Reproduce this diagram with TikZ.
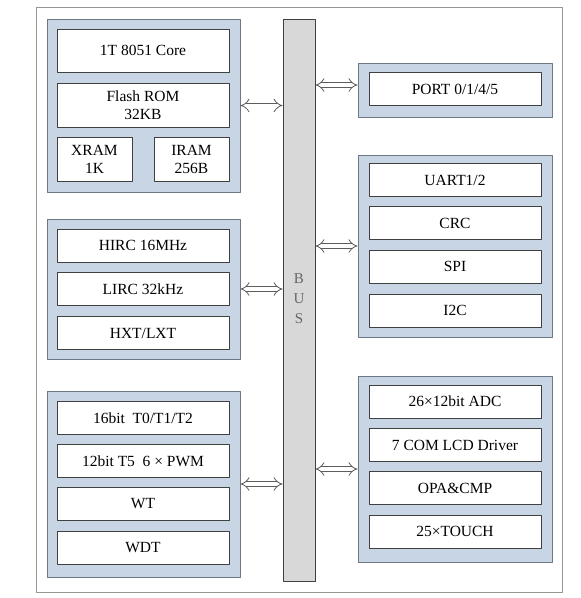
\documentclass[tikz,border=0pt]{standalone}
\usepackage{fontspec}
\setmainfont{Liberation Serif}
\usetikzlibrary{arrows.meta}
\definecolor{grpfill}{RGB}{200,213,228}
\definecolor{grpline}{RGB}{110,120,132}
\definecolor{busfill}{RGB}{216,216,216}
\definecolor{boxline}{RGB}{64,64,64}
\definecolor{frameline}{RGB}{150,150,150}
\begin{document}
\begin{tikzpicture}[x=1pt, y=-1pt, line join=round, font=\fontsize{15.5}{18}\selectfont,
	grp/.style={draw=grpline, fill=grpfill, line width=0.9pt, minimum width=193pt, inner sep=0pt},
	unit/.style={draw=boxline, fill=white, line width=0.8pt, minimum width=172pt, minimum height=33pt, inner sep=0pt, align=center},
	ram/.style={unit, minimum width=75pt, minimum height=44pt},
	link/.style={draw=boxline!85, line width=0.8pt, double=white, double distance=4pt, {Implies}-{Implies}}]
	%Khung ngoài.
	\useasboundingbox (0,0) rectangle (581,598);
	\draw[frameline, line width=0.9pt] (36,7) rectangle (562,592);
	%Đường BUS.
	\node[draw=boxline, fill=busfill, line width=0.8pt, minimum width=32pt, minimum height=562pt, inner sep=0pt] (bus) at (299,300) {};
	\node[text=black!60, align=center, font=\fontsize{15}{20}\selectfont] (bustext) at (299,299) {B\\U\\S};
	%Khối CPU và bộ nhớ.
	\node[grp, minimum height=173pt] (cpu) at (143.5,105.5) {};
	\node[unit, minimum height=43pt] (core) at (143,50.5) {1T 8051 Core};
	\node[unit, minimum height=44pt] (flash) at (143,105) {Flash ROM\\32KB};
	\node[ram] (xram) at (94.5,159) {XRAM\\1K};
	\node[ram] (iram) at (191.5,159) {IRAM\\256B};
	%Khối xung nhịp.
	\node[grp, minimum height=140pt] (clk) at (143.5,289) {};
	\node[unit] (hirc) at (143,245.5) {HIRC 16MHz};
	\node[unit] (lirc) at (143,289) {LIRC 32kHz};
	\node[unit] (hxt) at (143,333) {HXT/LXT};
	%Khối bộ định thời.
	\node[grp, minimum height=186pt] (tmr) at (143.5,484) {};
	\node[unit] (t012) at (143,418) {16bit\ \ T0/T1/T2};
	\node[unit] (t5) at (143,461) {12bit T5\ \ 6 × PWM};
	\node[unit] (wt) at (143,504) {WT};
	\node[unit] (wdt) at (143,548) {WDT};
	%Khối cổng.
	\node[grp, minimum width=194pt, minimum height=54pt] (port) at (455,90) {};
	\node[unit] (pio) at (455,89) {PORT 0/1/4/5};
	%Khối truyền thông.
	\node[grp, minimum width=194pt, minimum height=182pt] (com) at (455,246) {};
	\node[unit] (uart) at (455,180) {UART1/2};
	\node[unit] (crc) at (455,223) {CRC};
	\node[unit] (spi) at (455,266.5) {SPI};
	\node[unit] (iic) at (455,310.5) {I2C};
	%Khối tương tự.
	\node[grp, minimum width=194pt, minimum height=186pt] (ana) at (455,469) {};
	\node[unit] (adc) at (455,401.5) {26×12bit ADC};
	\node[unit] (lcd) at (455,445) {7 COM LCD Driver};
	\node[unit] (opa) at (455,488) {OPA\&CMP};
	\node[unit] (touch) at (455,531.5) {25×TOUCH};
	%Mũi tên nối BUS.
	\draw[link] (cpu.east) -- (cpu.east -| bus.west);
	\draw[link] (clk.east) -- (clk.east -| bus.west);
	\draw[link] (tmr.east) -- (tmr.east -| bus.west);
	\draw[link] ([yshift=5pt]port.west -| bus.east) -- ([yshift=5pt]port.west);
	\draw[link] (com.west -| bus.east) -- (com.west);
	\draw[link] (ana.west -| bus.east) -- (ana.west);
\end{tikzpicture}
\end{document}
